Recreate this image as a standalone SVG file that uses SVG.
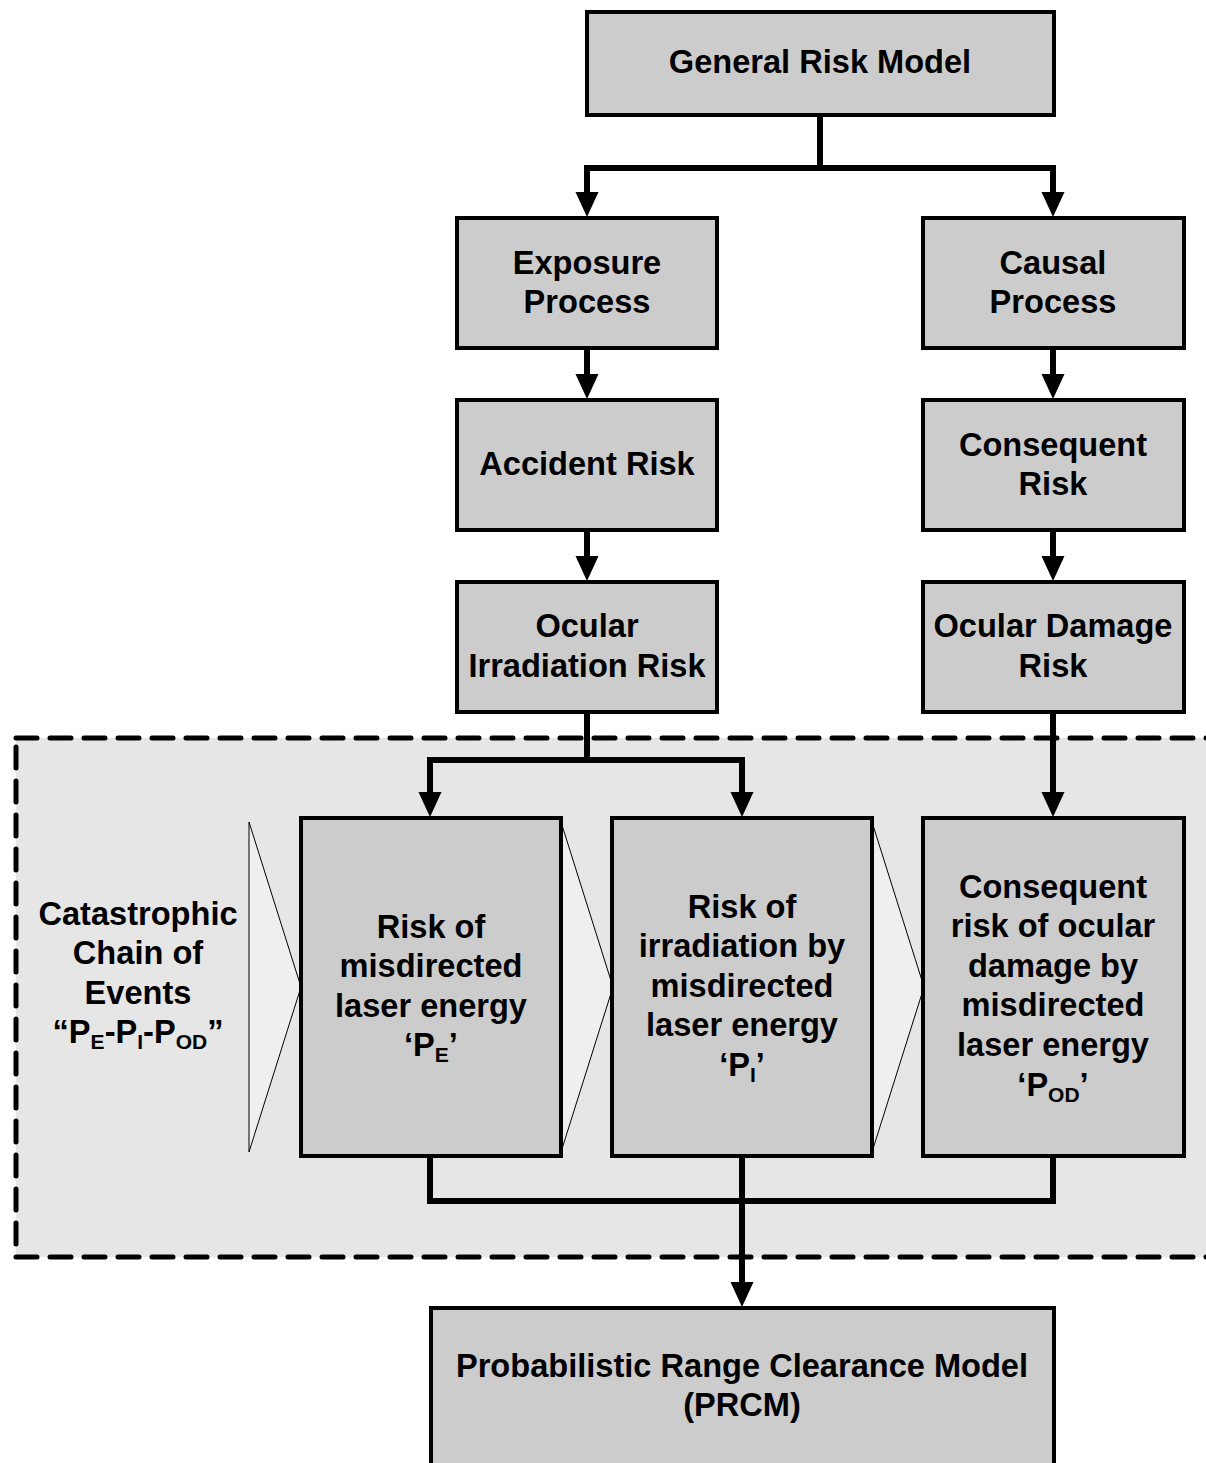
<svg xmlns="http://www.w3.org/2000/svg" width="1206" height="1463" viewBox="0 0 1206 1463">
<style>
.box{fill:#cccccc;stroke:#000;stroke-width:4}
.t{font-family:"Liberation Sans",Arial,sans-serif;font-weight:bold;font-size:32.6px;fill:#000;text-anchor:middle}
.sub{font-size:21px}
.c{fill:none;stroke:#000;stroke-width:6;stroke-linejoin:miter}
.chev{fill:#efefef;stroke:#000;stroke-width:1}
</style>
<defs>
<marker id="ah" markerUnits="userSpaceOnUse" markerWidth="26" markerHeight="26" viewBox="0 0 26 26" refX="13" refY="13" orient="auto">
<path d="M0,1.5 L25,13 L0,24.5 z" fill="#000"/>
</marker>
</defs>
<rect width="1206" height="1463" fill="#fff"/>
<g id="chain-region">
<rect x="16" y="738" width="1230" height="519" fill="#e6e6e6" stroke="#000" stroke-width="5" stroke-dasharray="21 13" stroke-linecap="round"/>
</g>
<g id="connectors">
<path class="c" d="M820,115 V168"/>
<path class="c" d="M587,168 H1053"/>
<path class="c" d="M587,165 V205" marker-end="url(#ah)"/>
<path class="c" d="M1053,165 V205" marker-end="url(#ah)"/>
<path class="c" d="M587,348 V387" marker-end="url(#ah)"/>
<path class="c" d="M1053,348 V387" marker-end="url(#ah)"/>
<path class="c" d="M587,530 V569" marker-end="url(#ah)"/>
<path class="c" d="M1053,530 V569" marker-end="url(#ah)"/>
<path class="c" d="M587,712 V760"/>
<path class="c" d="M430,760 H742"/>
<path class="c" d="M430,757 V805" marker-end="url(#ah)"/>
<path class="c" d="M742,757 V805" marker-end="url(#ah)"/>
<path class="c" d="M1053,712 V805" marker-end="url(#ah)"/>
<path class="c" d="M430,1156 V1201 H1053 V1156"/>
<path class="c" d="M742,1156 V1295" marker-end="url(#ah)"/>
</g>
<g id="chevrons">
<polygon class="chev" points="249,822 301,987 249,1152"/>
<polygon class="chev" points="561,822 613,987 561,1152"/>
<polygon class="chev" points="872,822 924,987 872,1152"/>
</g>
<g id="general-risk-model">
<rect class="box" x="587" y="12" width="467" height="103"/>
<text class="t" x="820" y="73">General Risk Model</text>
</g>
<g id="exposure-process">
<rect class="box" x="457" y="218" width="260" height="130"/>
<text class="t" x="587" y="274">Exposure</text>
<text class="t" x="587" y="313">Process</text>
</g>
<g id="causal-process">
<rect class="box" x="923" y="218" width="261" height="130"/>
<text class="t" x="1053" y="274">Causal</text>
<text class="t" x="1053" y="313">Process</text>
</g>
<g id="accident-risk">
<rect class="box" x="457" y="400" width="260" height="130"/>
<text class="t" x="587" y="475">Accident Risk</text>
</g>
<g id="consequent-risk">
<rect class="box" x="923" y="400" width="261" height="130"/>
<text class="t" x="1053" y="456">Consequent</text>
<text class="t" x="1053" y="495">Risk</text>
</g>
<g id="ocular-irradiation-risk">
<rect class="box" x="457" y="582" width="260" height="130"/>
<text class="t" x="587" y="637">Ocular</text>
<text class="t" x="587" y="677">Irradiation Risk</text>
</g>
<g id="ocular-damage-risk">
<rect class="box" x="923" y="582" width="261" height="130"/>
<text class="t" x="1053" y="637">Ocular Damage</text>
<text class="t" x="1053" y="677">Risk</text>
</g>
<g id="catastrophic-chain-label">
<text class="t" x="138" y="925">Catastrophic</text>
<text class="t" x="138" y="964">Chain of</text>
<text class="t" x="138" y="1004">Events</text>
<text class="t" x="138" y="1043">“P<tspan class="sub" dy="6">E</tspan><tspan dy="-6">-P</tspan><tspan class="sub" dy="6">I</tspan><tspan dy="-6">-P</tspan><tspan class="sub" dy="6">OD</tspan><tspan dy="-6">”</tspan></text>
</g>
<g id="pe-box">
<rect class="box" x="301" y="818" width="260" height="338"/>
<text class="t" x="431" y="938">Risk of</text>
<text class="t" x="431" y="977">misdirected</text>
<text class="t" x="431" y="1017">laser energy</text>
<text class="t" x="431" y="1056">‘P<tspan class="sub" dy="6">E</tspan><tspan dy="-6">’</tspan></text>
</g>
<g id="pi-box">
<rect class="box" x="612" y="818" width="260" height="338"/>
<text class="t" x="742" y="918">Risk of</text>
<text class="t" x="742" y="957">irradiation by</text>
<text class="t" x="742" y="997">misdirected</text>
<text class="t" x="742" y="1036">laser energy</text>
<text class="t" x="742" y="1076">‘P<tspan class="sub" dy="6">I</tspan><tspan dy="-6">’</tspan></text>
</g>
<g id="pod-box">
<rect class="box" x="923" y="818" width="261" height="338"/>
<text class="t" x="1053" y="898">Consequent</text>
<text class="t" x="1053" y="937">risk of ocular</text>
<text class="t" x="1053" y="977">damage by</text>
<text class="t" x="1053" y="1016">misdirected</text>
<text class="t" x="1053" y="1056">laser energy</text>
<text class="t" x="1053" y="1096">‘P<tspan class="sub" dy="6">OD</tspan><tspan dy="-6">’</tspan></text>
</g>
<g id="prcm">
<rect class="box" x="431" y="1308" width="623" height="170"/>
<text class="t" x="742" y="1377">Probabilistic Range Clearance Model</text>
<text class="t" x="742" y="1416">(PRCM)</text>
</g>
</svg>
